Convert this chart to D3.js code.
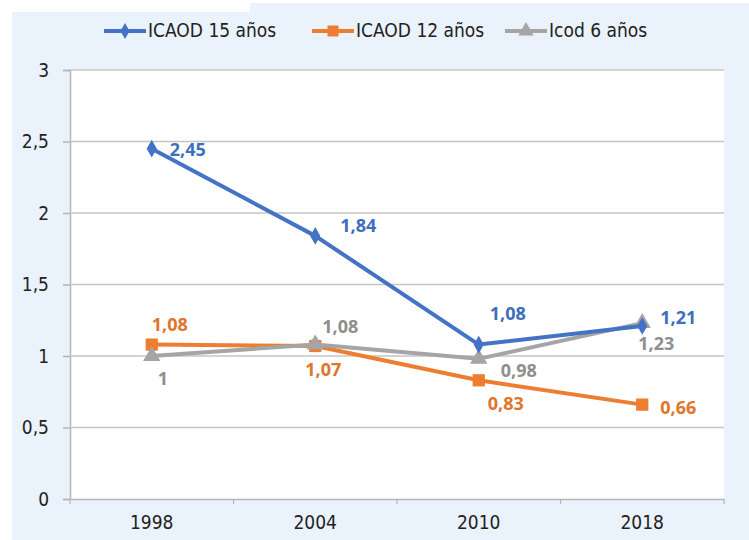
<!DOCTYPE html>
<html><head><meta charset="utf-8">
<script src="https://cdn.jsdelivr.net/npm/d3@7"></script>
<style>
html,body{margin:0;padding:0;background:#fff;}
svg{display:block;}
text{font-family:"Liberation Sans Narrow","DejaVu Sans Condensed","Open Sans",sans-serif;}
</style></head>
<body>
<script>
const categories = ["1998", "2004", "2010", "2018"];
const seriesNames = ["ICAOD 15 años", "ICAOD 12 años", "Icod 6 años"];
const icaod15 = [2.45, 1.84, 1.08, 1.21];
const icaod12 = [1.08, 1.07, 0.83, 0.66];
const icod6 = [1.0, 1.08, 0.98, 1.23];
const yTicks = [0, 0.5, 1, 1.5, 2, 2.5, 3];

// label placement (pixel offsets from point), layout only
const labelOffsets = [
  [[18, 3], [25, -9], [11, -29], [18, -7]],
  [[0, -18], [-10, 25], [9, 25], [18, 5]],
  [[6, 24], [7, -16], [22, 13], [-4, 22]]
];

const W = 749, H = 540;
const margin = {left: 70, right: 25, top: 70, bottom: 41};
const svg = d3.select("body").append("svg").attr("width", W).attr("height", H);

// backgrounds
svg.append("rect").attr("x", 12).attr("y", 12).attr("width", W - 12).attr("height", H - 12).attr("fill", "#eaf2fb");
svg.append("rect").attr("x", 250).attr("y", 3).attr("width", W - 250).attr("height", 12).attr("fill", "#eaf2fb");

const x = d3.scaleBand().domain(categories).range([margin.left, W - margin.right]);
const y = d3.scaleLinear().domain([0, 3]).range([H - margin.bottom, margin.top]);

svg.append("rect").attr("x", margin.left).attr("y", margin.top)
  .attr("width", W - margin.right - margin.left).attr("height", H - margin.bottom - margin.top).attr("fill", "#fff");

// gridlines + y axis
const yAxis = svg.append("g").attr("transform", `translate(${margin.left},0)`)
  .call(d3.axisLeft(y).tickValues(yTicks).tickSize(7).tickPadding(14)
    .tickFormat(d => d3.format("")(d).replace(".", ",")));
yAxis.select(".domain").attr("stroke", "#b5b5b5").attr("stroke-width", 1.5);
yAxis.selectAll(".tick line").attr("stroke", "#b5b5b5").attr("stroke-width", 1.5);
yAxis.selectAll(".tick text").attr("fill", "#222").attr("font-size", 19);

svg.append("g").selectAll("line").data(yTicks.filter(d => d > 0)).join("line")
  .attr("x1", margin.left).attr("x2", W - margin.right)
  .attr("y1", d => y(d)).attr("y2", d => y(d))
  .attr("stroke", "#c4c4c4").attr("stroke-width", 1.5);

// x axis
const xAxis = svg.append("g").attr("transform", `translate(0,${y(0)})`)
  .call(d3.axisBottom(x).tickSize(0).tickPadding(17));
xAxis.select(".domain").attr("stroke", "#b5b5b5").attr("stroke-width", 1.5);
xAxis.selectAll(".tick text").attr("fill", "#222").attr("font-size", 19);
// boundary ticks
const bounds = [margin.left, ...categories.map(c => x(c) + x.bandwidth())];
xAxis.append("g").selectAll("line").data(bounds).join("line")
  .attr("x1", d => d).attr("x2", d => d).attr("y1", 0).attr("y2", 5)
  .attr("stroke", "#b5b5b5").attr("stroke-width", 1.2);

const colors = ["#4472c4", "#ed7d31", "#a5a5a5"];
const labelColors = ["#3d6fbd", "#e0752c", "#8e8e8e"];
const allSeries = [icaod15, icaod12, icod6];
const symbols = [d3.symbolDiamond, d3.symbolSquare, d3.symbolTriangle];
const symbolSizes = [90, 150, 130];
const cx = c => x(c) + x.bandwidth() / 2;

const line = d3.line().x((d, i) => cx(categories[i])).y(d => y(d));

const order = [1, 2, 0];
order.forEach(s => {
  const g = svg.append("g");
  g.append("path").datum(allSeries[s]).attr("d", line)
    .attr("fill", "none").attr("stroke", colors[s]).attr("stroke-width", 4).attr("stroke-linejoin", "round");
  g.selectAll("path.m").data(allSeries[s]).join("path").attr("class", "m")
    .attr("d", d3.symbol().type(symbols[s]).size(symbolSizes[s]))
    .attr("transform", (d, i) => `translate(${cx(categories[i])},${y(d)})`)
    .attr("fill", colors[s]);
});
order.forEach(s => {
  svg.append("g").selectAll("text").data(allSeries[s]).join("text")
    .attr("x", (d, i) => cx(categories[i]) + labelOffsets[s][i][0])
    .attr("y", (d, i) => y(d) + labelOffsets[s][i][1])
    .attr("dominant-baseline", "middle")
    .attr("fill", labelColors[s]).attr("font-size", 18).attr("font-weight", "bold")
    .style("font-family", "'Open Sans', sans-serif")
    .text(d => d3.format("")(d).replace(".", ","));
});

// legend
const legendX = [104, 312, 505];
const leg = svg.append("g");
seriesNames.forEach((n, s) => {
  const g = leg.append("g").attr("transform", `translate(${legendX[s]},31)`);
  g.append("line").attr("x1", 0).attr("x2", 42).attr("stroke", colors[s]).attr("stroke-width", 4);
  g.append("path").attr("d", d3.symbol().type(symbols[s]).size(symbolSizes[s] * 0.8)).attr("transform", "translate(21,0)").attr("fill", colors[s]);
  g.append("text").attr("x", 44).attr("dominant-baseline", "middle").attr("font-size", 19).attr("fill", "#222").text(n);
});
</script>
</body></html>
